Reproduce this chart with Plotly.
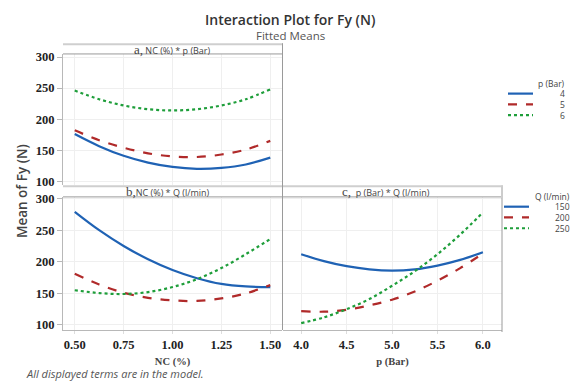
import plotly.graph_objects as go

W, H = 579, 382

# ---------------- data ----------------
nc = [0.5, 0.625, 0.75, 0.875, 1.0, 1.125, 1.25, 1.375, 1.5]
p_bar = [4.0, 4.25, 4.5, 4.75, 5.0, 5.25, 5.5, 5.75, 6.0]

# panel a: NC * p
a_p4 = [176, 156.5, 141, 130, 123, 120, 121.5, 127, 138]
a_p5 = [182, 166, 154, 145, 140, 139, 143, 151, 165]
a_p6 = [246, 232, 222, 216, 214, 216, 222, 232, 248]

# panel b: NC * Q
b_q150 = [279, 250, 225, 204, 187, 174, 165, 161, 160]
b_q200 = [181, 164, 151, 143, 139, 138, 142, 150, 163]
b_q250 = [155, 150.5, 149, 152, 160, 172.5, 190, 212, 236]

# panel c: p * Q
c_q150 = [212, 201, 193, 188, 186, 188, 194, 203, 215]
c_q200 = [122, 121, 124, 131, 140, 153, 170, 190, 213]
c_q250 = [103, 112, 125, 141, 162, 185, 212, 243, 278]

p_levels = ["4", "5", "6"]
q_levels = ["150", "200", "250"]
y_ticks = [100, 150, 200, 250, 300]
nc_ticks = [0.5, 0.75, 1.0, 1.25, 1.5]
p_ticks = [4.0, 4.5, 5.0, 5.5, 6.0]

colors = ["#1f62b4", "#b02a2a", "#1e9e3a"]
dashes = ["solid", "dash", "dot"]

# ---------------- helpers ----------------
def px(x):
    return x / W

def py(y):
    return 1 - y / H

fig = go.Figure()

def add_series(xs, ys_list, xa, ya):
    for ys, c, d in zip(ys_list, colors, dashes):
        fig.add_trace(go.Scatter(
            x=xs, y=ys, mode="lines", xaxis=xa, yaxis=ya,
            line=dict(color=c, width=2.2, dash=d, shape="spline", smoothing=1.0),
            showlegend=False, hoverinfo="skip"))

add_series(nc, [a_p4, a_p5, a_p6], "x", "y")
add_series(nc, [b_q150, b_q200, b_q250], "x2", "y2")
add_series(p_bar, [c_q150, c_q200, c_q250], "x3", "y3")

grid = "#efefef"
axis_line = "#b8b8b8"
tickfont = dict(family="Liberation Serif", size=12.5, color="#222", weight="bold")

# domains in pixel terms
a_x = [px(63), px(282)]
c_x = [px(283), px(502)]
a_y = [py(184), py(50)]
b_y = [py(332), py(196)]

common_x = dict(showgrid=True, gridcolor=grid, zeroline=False, showline=True,
                linecolor=axis_line, linewidth=1)
common_y = dict(showgrid=True, gridcolor=grid, zeroline=False, tickvals=y_ticks)

fig.update_layout(
    width=W, height=H,
    margin=dict(l=0, r=0, t=0, b=0),
    paper_bgcolor="white", plot_bgcolor="white",
    xaxis=dict(domain=a_x, range=[0.44, 1.56], tickvals=nc_ticks, showticklabels=False,
               anchor="y", showgrid=True, gridcolor=grid, zeroline=False, showline=False),
    yaxis=dict(domain=a_y, range=[93.7, 305], anchor="x", showline=True, linecolor=axis_line,
               ticks="outside", ticklen=5, tickcolor=axis_line, tickfont=tickfont, **common_y),
    xaxis2=dict(domain=a_x, range=[0.44, 1.56], tickvals=nc_ticks, tickformat=".2f",
                anchor="y2", ticks="outside", ticklen=3, tickcolor="#dddddd",
                tickfont=tickfont,
                title=dict(text="NC (%)", standoff=6,
                           font=dict(family="Liberation Serif", size=10.5, color="#444", weight="bold")),
                **common_x),
    yaxis2=dict(domain=b_y, range=[92, 302.6], anchor="x2", showline=True, linecolor=axis_line,
                ticks="outside", ticklen=5, tickcolor=axis_line, tickfont=tickfont, **common_y),
    xaxis3=dict(domain=c_x, range=[3.8, 6.21], tickvals=p_ticks, tickformat=".1f",
                anchor="y3", ticks="outside", ticklen=3, tickcolor="#dddddd",
                tickfont=tickfont,
                title=dict(text="p (Bar)", standoff=6,
                           font=dict(family="Liberation Serif", size=10.5, color="#444", weight="bold")),
                **common_x),
    yaxis3=dict(domain=b_y, range=[92, 302.6], anchor="x3", matches="y2",
                showticklabels=False, showline=False, **common_y),
    showlegend=False,
)

shapes = []
def hline(x0, x1, y, color, width):
    shapes.append(dict(type="line", xref="paper", yref="paper",
                       x0=px(x0), x1=px(x1), y0=py(y), y1=py(y),
                       line=dict(color=color, width=width)))

def vline(x, y0, y1, color, width):
    shapes.append(dict(type="line", xref="paper", yref="paper",
                       x0=px(x), x1=px(x), y0=py(y0), y1=py(y1),
                       line=dict(color=color, width=width)))

# header strips
hline(63, 282, 40, "#cfcfcf", 2)
hline(63, 282, 50, "#9a9a9a", 1)
hline(63, 282, 185, "#cfcfcf", 2)
hline(63, 282, 196, "#9a9a9a", 1)
hline(283, 501, 185, "#cfcfcf", 2)
hline(283, 501, 196, "#9a9a9a", 1)
# panel separators
vline(282.5, 39, 332, "#9a9a9a", 1)
vline(502, 184, 334, "#9a9a9a", 1)

# manual legends
leg_sets = [
    (80.5, "p (Bar)", p_levels, 508, 533, 567, [90.5, 101.5, 112.5]),
    (195.5, "Q (l/min)", q_levels, 504, 529, 572, [206, 217, 228]),
]
ann = []
for ty, title, levels, lx0, lx1, tx, ys in leg_sets:
    ann.append(dict(x=px(tx), y=py(ty), xref="paper", yref="paper", text=title,
                    showarrow=False, xanchor="right", yanchor="middle",
                    font=dict(family="Open Sans", size=8.5, color="#444")))
    for lev, c, d, yy in zip(levels, colors, dashes, ys):
        shapes.append(dict(type="line", xref="paper", yref="paper",
                           x0=px(lx0), x1=px(lx1), y0=py(yy), y1=py(yy),
                           line=dict(color=c, width=2.2, dash=d)))
        ann.append(dict(x=px(tx), y=py(yy), xref="paper", yref="paper", text=lev,
                        showarrow=False, xanchor="right", yanchor="middle",
                        font=dict(family="Open Sans", size=8.5, color="#444")))

fig.update_layout(shapes=shapes)

serif_span = '<span style="font-family:Liberation Serif;font-size:13px">{}</span>'
ann += [
    dict(x=px(290), y=py(15), xref="paper", yref="paper",
         text="Interaction Plot for Fy (N)", showarrow=False, xanchor="center", yanchor="middle",
         font=dict(family="Open Sans", size=14, color="#333", weight=600)),
    dict(x=px(290), y=py(31.5), xref="paper", yref="paper",
         text="Fitted Means", showarrow=False, xanchor="center", yanchor="middle",
         font=dict(family="Open Sans", size=11.5, color="#555")),
    dict(x=px(172), y=py(45), xref="paper", yref="paper",
         text=serif_span.format("a,") + " NC (%) * p (Bar)", showarrow=False,
         xanchor="center", yanchor="middle",
         font=dict(family="Open Sans", size=9, color="#444")),
    dict(x=px(168), y=py(190.5), xref="paper", yref="paper",
         text=serif_span.format("b,") + "NC (%) * Q (l/min)", showarrow=False,
         xanchor="center", yanchor="middle",
         font=dict(family="Open Sans", size=9, color="#444")),
    dict(x=px(386), y=py(190.5), xref="paper", yref="paper",
         text=serif_span.format("c,") + "  p (Bar) * Q (l/min)", showarrow=False,
         xanchor="center", yanchor="middle",
         font=dict(family="Open Sans", size=9, color="#444")),
    dict(x=px(22), y=py(190), xref="paper", yref="paper",
         text="Mean of Fy (N)", showarrow=False, textangle=-90,
         xanchor="center", yanchor="middle",
         font=dict(family="Open Sans", size=13.5, color="#444", weight=600)),
    dict(x=px(24), y=py(376), xref="paper", yref="paper",
         text="<i>All displayed terms are in the model.</i>", showarrow=False,
         xanchor="left", yanchor="middle",
         font=dict(family="Open Sans", size=11, color="#555")),
]
fig.update_layout(annotations=ann)

fig.write_html("out.html")
